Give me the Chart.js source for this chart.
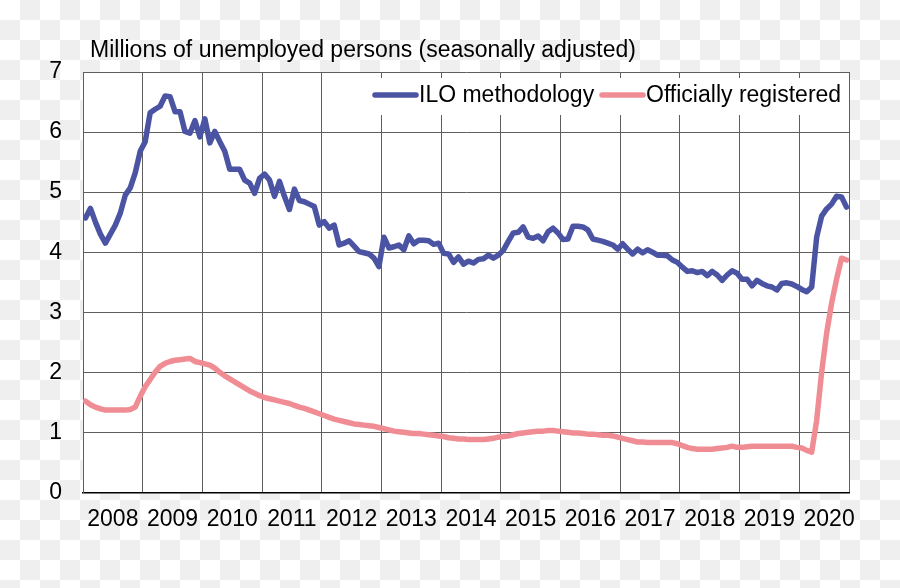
<!DOCTYPE html>
<html>
<head>
<meta charset="utf-8">
<script src="https://cdn.jsdelivr.net/npm/chart.js@4"></script>
<style>
  html, body { margin: 0; padding: 0; }
  body {
    width: 900px; height: 588px;
    background: repeating-conic-gradient(#efefef 0 25%, #ffffff 0 50%) 0 0 / 40px 40px;
  }
  #wrap { position: relative; width: 900px; height: 588px; }
</style>
</head>
<body>
<div id="wrap"><canvas id="chart" width="900" height="588"></canvas></div>
<script>
// Dữ liệu: theo tháng, bắt đầu từ 01/2008
const years = ['2008', '2009', '2010', '2011', '2012', '2013', '2014', '2015', '2016', '2017', '2018', '2019', '2020'];

const ilo = [
    4.57, 4.73, 4.5, 4.3, 4.15, 4.3, 4.45, 4.65, 4.95, 5.07,
    5.32, 5.68, 5.84, 6.32, 6.38, 6.43, 6.6, 6.59, 6.34, 6.34,
    6.01, 5.98, 6.19, 5.92, 6.22, 5.82, 6.01, 5.84, 5.68, 5.38,
    5.38, 5.38, 5.2, 5.15, 4.98, 5.23, 5.3, 5.2, 4.93, 5.18,
    4.93, 4.71, 5.05, 4.86, 4.84, 4.8, 4.76, 4.45, 4.51, 4.4,
    4.45, 4.12, 4.15, 4.19, 4.1, 4.01, 3.99, 3.97, 3.9, 3.76,
    4.25, 4.07, 4.09, 4.12, 4.04, 4.27, 4.14, 4.2, 4.2, 4.19,
    4.13, 4.15, 3.98, 3.97, 3.83, 3.92, 3.8, 3.85, 3.82, 3.88,
    3.89, 3.95, 3.9, 3.95, 4.03, 4.18, 4.32, 4.33, 4.42, 4.25,
    4.23, 4.27, 4.19, 4.34, 4.4, 4.32, 4.21, 4.22, 4.43, 4.43,
    4.42, 4.37, 4.22, 4.2, 4.18, 4.15, 4.12, 4.05, 4.14, 4.05,
    3.97, 4.05, 3.99, 4.04, 4.0, 3.95, 3.95, 3.94, 3.87, 3.83,
    3.75, 3.68, 3.69, 3.66, 3.68, 3.61, 3.68, 3.62, 3.53, 3.62,
    3.69, 3.65, 3.55, 3.55, 3.44, 3.53, 3.48, 3.44, 3.42, 3.37,
    3.48, 3.49, 3.47, 3.43, 3.38, 3.34, 3.42, 4.25, 4.6, 4.72,
    4.8, 4.93, 4.92, 4.75
];

const registered = [
    1.52, 1.46, 1.42, 1.39, 1.37, 1.37, 1.37, 1.37, 1.37, 1.38,
    1.42, 1.6, 1.76, 1.88, 2.0, 2.1, 2.15, 2.18, 2.2, 2.21,
    2.22, 2.23, 2.18, 2.16, 2.14, 2.12, 2.07, 2.0, 1.94, 1.89,
    1.84, 1.79, 1.74, 1.69, 1.65, 1.61, 1.58, 1.56, 1.54, 1.52,
    1.5, 1.48, 1.45, 1.42, 1.4, 1.37, 1.34, 1.31, 1.28, 1.25,
    1.22, 1.2, 1.18, 1.16, 1.14, 1.13, 1.12, 1.11, 1.1, 1.08,
    1.06, 1.04, 1.02, 1.01, 1.0, 0.99, 0.98, 0.98, 0.97, 0.96,
    0.95, 0.94, 0.93, 0.91, 0.9, 0.89, 0.89, 0.88, 0.88, 0.88,
    0.88, 0.89, 0.9, 0.92, 0.93, 0.94, 0.96, 0.98, 0.99, 1.0,
    1.01, 1.02, 1.02, 1.03, 1.03, 1.02, 1.01, 1.0, 0.99, 0.99,
    0.98, 0.97, 0.97, 0.96, 0.95, 0.95, 0.94, 0.92, 0.9, 0.88,
    0.86, 0.84, 0.84, 0.83, 0.83, 0.83, 0.83, 0.83, 0.83, 0.81,
    0.78, 0.75, 0.73, 0.72, 0.72, 0.72, 0.72, 0.73, 0.74, 0.75,
    0.77, 0.75, 0.75, 0.76, 0.77, 0.77, 0.77, 0.77, 0.77, 0.77,
    0.77, 0.77, 0.77, 0.75, 0.74, 0.7, 0.67, 1.2, 2.0, 2.65,
    3.15, 3.55, 3.9, 3.87
];

const yTicks = [0, 1, 2, 3, 4, 5, 6, 7];
const titleText = 'Millions of unemployed persons (seasonally adjusted)';
const seriesNames = ['ILO methodology', 'Officially registered'];
const seriesColors = ['#4b54a3', '#f08d94'];

const FONT = '"Liberation Sans", Arial, sans-serif';
const FONT_SIZE = 23;
const GRID = '#5e5e5e';
const nMonths = ilo.length;

// Mỗi điểm nằm giữa tháng
function toPoints(arr) {
    return arr.map((v, i) => ({ x: i + 0.5, y: v }));
}

// Nền trắng cho vùng biểu đồ
const plotBg = {
    id: 'plotBg',
    beforeDraw(chart) {
        const { ctx, chartArea: a } = chart;
        ctx.save();
        ctx.fillStyle = '#ffffff';
        ctx.fillRect(a.left, a.top, a.right - a.left, a.bottom - a.top);
        ctx.restore();
    }
};

// Tiêu đề và chú thích
const titleLegend = {
    id: 'titleLegend',
    afterDraw(chart) {
        const { ctx, chartArea: a } = chart;
        ctx.save();
        ctx.font = FONT_SIZE + 'px ' + FONT;
        ctx.fillStyle = '#000';
        ctx.textBaseline = 'alphabetic';
        ctx.textAlign = 'left';
        ctx.fillText(titleText, 90, 57);

        // hộp chú thích
        ctx.fillStyle = '#ffffff';
        ctx.fillRect(364, 78, a.right - 365, 37);

        const items = [
            { x: 373, label: seriesNames[0], color: seriesColors[0] },
            { x: 600, label: seriesNames[1], color: seriesColors[1] }
        ];
        items.forEach(it => {
            ctx.strokeStyle = it.color;
            ctx.lineWidth = 5.5;
            ctx.lineCap = 'round';
            ctx.beginPath();
            ctx.moveTo(it.x + 2, 95);
            ctx.lineTo(it.x + 43, 95);
            ctx.stroke();
            ctx.fillStyle = '#000';
            ctx.textBaseline = 'middle';
            ctx.fillText(it.label, it.x + 46, 96);
        });
        ctx.restore();
    }
};

const config = {
    type: 'line',
    data: {
        datasets: [
            {
                label: seriesNames[1],
                data: toPoints(registered),
                borderColor: seriesColors[1],
                borderWidth: 5.5,
                pointRadius: 0,
                tension: 0,
                borderJoinStyle: 'round',
                borderCapStyle: 'round',
                fill: false
            },
            {
                label: seriesNames[0],
                data: toPoints(ilo),
                borderColor: seriesColors[0],
                borderWidth: 5.5,
                pointRadius: 0,
                tension: 0,
                borderJoinStyle: 'round',
                borderCapStyle: 'round',
                fill: false
            }
        ]
    },
    options: {
        responsive: false,
        animation: false,
        events: [],
        layout: {
            padding: { top: 72, right: 51, bottom: 42, left: 0 }
        },
        plugins: {
            legend: { display: false },
            title: { display: false },
            tooltip: { enabled: false }
        },
        scales: {
            x: {
                type: 'linear',
                min: 0,
                max: nMonths,
                afterBuildTicks(scale) {
                    const t = [];
                    for (let v = 0; v <= nMonths; v += 6) t.push({ value: v });
                    if (t[t.length - 1].value !== nMonths) t.push({ value: nMonths });
                    scale.ticks = t;
                },
                grid: {
                    drawTicks: false,
                    lineWidth: 1,
                    color: (ctx) => {
                        if (!ctx.tick) return 'rgba(0,0,0,0)';
                        const v = ctx.tick.value;
                        return (v % 12 === 0 || v === nMonths) ? GRID : 'rgba(0,0,0,0)';
                    }
                },
                border: { display: true, color: '#000', width: 1.5 },
                ticks: {
                    autoSkip: false,
                    maxRotation: 0,
                    padding: 13,
                    color: '#000',
                    font: { family: FONT, size: FONT_SIZE },
                    callback: (value) => (value % 12 === 6 ? years[(value - 6) / 12] : '')
                }
            },
            y: {
                min: 0,
                max: 7,
                afterBuildTicks(scale) {
                    scale.ticks = yTicks.map(v => ({ value: v }));
                },
                afterFit(scale) {
                    scale.width = 83;
                },
                grid: { drawTicks: false, color: GRID, lineWidth: 1 },
                border: { display: true, color: GRID, width: 1 },
                ticks: {
                    padding: 21,
                    color: '#000',
                    font: { family: FONT, size: FONT_SIZE }
                }
            }
        }
    },
    plugins: [plotBg, titleLegend]
};

const lineChart = new Chart(document.getElementById('chart'), config);
</script>
</body>
</html>
